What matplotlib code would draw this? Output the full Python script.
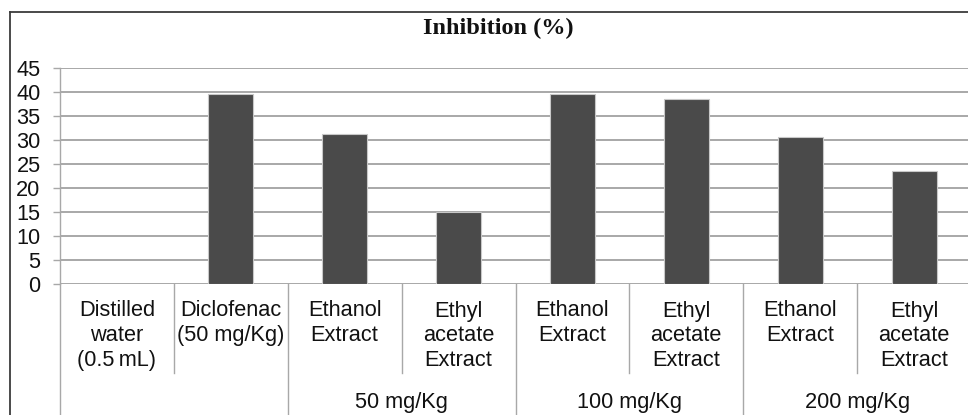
import matplotlib
matplotlib.use("Agg")
import matplotlib.pyplot as plt
from matplotlib.transforms import blended_transform_factory
from matplotlib.lines import Line2D

# Inhibition (%) per treatment
categories = [
    "Distilled\nwater\n(0.5\u2009mL)",
    "Diclofenac\n(50 mg/Kg)",
    "Ethanol\nExtract",
    "Ethyl\nacetate\nExtract",
    "Ethanol\nExtract",
    "Ethyl\nacetate\nExtract",
    "Ethanol\nExtract",
    "Ethyl\nacetate\nExtract",
]
inhibition = [0.0, 39.7, 31.2, 15.0, 39.7, 38.5, 30.7, 23.6]
dose_groups = ["50 mg/Kg", "100 mg/Kg", "200 mg/Kg"]
dose_group_members = [(2, 3), (4, 5), (6, 7)]
y_ticks = [0, 5, 10, 15, 20, 25, 30, 35, 40, 45]

W, H = 968, 415
fig = plt.figure(figsize=(W / 100, H / 100), dpi=100)
fig.patch.set_facecolor("white")

def fx(px):
    return px / W

def fy(py):
    return (H - py) / H

sans = ["Liberation Sans", "DejaVu Sans"]
grid_col = "#a8a8a8"
text_col = "#111111"
fs = 15.7

ax_left, ax_right = 60, 971
ax_top, ax_bottom = 68.3, 283.5
ax = fig.add_axes([fx(ax_left), fy(ax_bottom), fx(ax_right - ax_left),
                   (ax_bottom - ax_top) / H])

x = list(range(len(categories)))
ax.bar(x, inhibition, width=0.395, color="#4a4a4a", edgecolor="#c8c8c8",
       linewidth=0.8, zorder=3)

ax.set_xlim(-0.5, len(categories) - 0.5)
ax.set_ylim(0, 45)
ax.set_yticks(y_ticks)
ax.set_yticklabels([str(v) for v in y_ticks], fontsize=fs, family=sans,
                   color=text_col)
ax.yaxis.grid(True, color=grid_col, linewidth=1.4, zorder=0)
ax.set_axisbelow(True)
ax.tick_params(axis="y", length=5, width=1.0, color=grid_col, pad=9)
ax.tick_params(axis="x", length=0, labelbottom=False)
for side in ("top", "right", "bottom"):
    ax.spines[side].set_visible(False)
ax.spines["left"].set_color(grid_col)
ax.spines["left"].set_linewidth(1.0)

trans = blended_transform_factory(ax.transData, fig.transFigure)

# treatment labels under each bar
for xi, lab in zip(x, categories):
    ax.text(xi, fy(300.5), lab, transform=trans, ha="center", va="top",
            fontsize=fs, family=sans, color=text_col, linespacing=1.22,
            clip_on=False)

# dose group labels
for name, (a, b) in zip(dose_groups, dose_group_members):
    ax.text((a + b) / 2, fy(402), name, transform=trans, ha="center",
            va="center", fontsize=fs, family=sans, color=text_col,
            clip_on=False)

# dividers: short between treatments, full height between dose groups
group_edges = {-0.5, 1.5, 3.5, 5.5}
for i in range(len(categories)):
    edge = i - 0.5
    if edge in group_edges:
        y_end = fy(H + 2)
    else:
        y_end = fy(373)
    ax.add_line(Line2D([edge, edge], [fy(ax_bottom), y_end], transform=trans,
                       color=grid_col, linewidth=1.0, clip_on=False))

# chart frame (top and left edges)
fig.add_artist(Line2D([fx(10), fx(W + 5)], [fy(12), fy(12)],
                      transform=fig.transFigure, color="#3c3c3c",
                      linewidth=1.3))
fig.add_artist(Line2D([fx(10), fx(10)], [fy(12), fy(H + 5)],
                      transform=fig.transFigure, color="#3c3c3c",
                      linewidth=1.3))

fig.text(fx(498.5), fy(34.5), "Inhibition (%)", ha="center", va="baseline",
         fontsize=17.5, fontweight="bold",
         family=["Liberation Serif", "DejaVu Serif"], color="#111111")

fig.savefig("out.png", dpi=100, facecolor="white")
